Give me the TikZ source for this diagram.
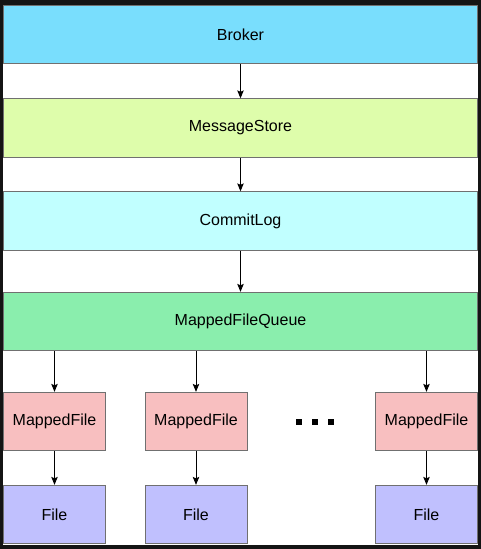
\documentclass[tikz,border=0pt]{standalone}
\usepackage{fontspec}
\setmainfont{Liberation Sans}
\usetikzlibrary{arrows.meta}
\definecolor{brokerblue}{HTML}{79DEFD}
\definecolor{storegreen}{HTML}{DEFDAB}
\definecolor{logcyan}{HTML}{C1FFFF}
\definecolor{queuegreen}{HTML}{8AEEAD}
\definecolor{filepink}{HTML}{F8BFC0}
\definecolor{fileblue}{HTML}{C0C0FE}
\definecolor{edgegray}{HTML}{707070}

\begin{document}
\begin{tikzpicture}[x=1pt,y=-1pt,
  box/.style={draw=edgegray,line width=0.8pt,inner sep=0pt,font=\fontsize{16}{19}\selectfont},
  wide/.style={box,minimum width=474pt,minimum height=58.5pt},
  small/.style={box,minimum width=102pt,minimum height=58.5pt},
  link/.style={-{Stealth[length=8pt,width=6.5pt,inset=1.5pt]},line width=0.9pt}]
	%%%%% START %%%%%
	
	\useasboundingbox (0,0) rectangle (481,549);
	\fill[black!92] (0,0) rectangle (481,549);
	\fill[white] (3,4.5) rectangle (478,545);
	
	\node[wide, fill=brokerblue] (broker) at (240.5,34.5) {Broker};
	\node[wide, fill=storegreen] (store) at (240.5,128) {MessageStore};
	\node[wide, fill=logcyan] (commitlog) at (240.5,221) {CommitLog};
	\node[wide, fill=queuegreen] (queue) at (240.5,321.5) {MappedFileQueue};
	
	\node[small, fill=filepink] (mfa) at (54.5,421.5) {MappedFile};
	\node[small, fill=filepink] (mfb) at (196,421.5) {MappedFile};
	\node[small, fill=filepink] (mfc) at (426.5,421.5) {MappedFile};
	
	\node[small, fill=fileblue] (fa) at (54.5,514.5) {File};
	\node[small, fill=fileblue] (fb) at (196,514.5) {File};
	\node[small, fill=fileblue] (fc) at (426.5,514.5) {File};
	
	\draw[link] (broker) -- (store);
	\draw[link] (store) -- (commitlog);
	\draw[link] (commitlog) -- (queue);
	
	\draw[link] (mfa |- queue.south) -- (mfa);
	\draw[link] (mfb |- queue.south) -- (mfb);
	\draw[link] (mfc |- queue.south) -- (mfc);
	
	\draw[link] (mfa) -- (fa);
	\draw[link] (mfb) -- (fb);
	\draw[link] (mfc) -- (fc);
	
	% the dots between the second and last column
	\foreach \x in {299,315,331}
		\fill[black] (\x-3,419) rectangle (\x+3,425);
	
	%%%%% END %%%%%
\end{tikzpicture}
\end{document}
